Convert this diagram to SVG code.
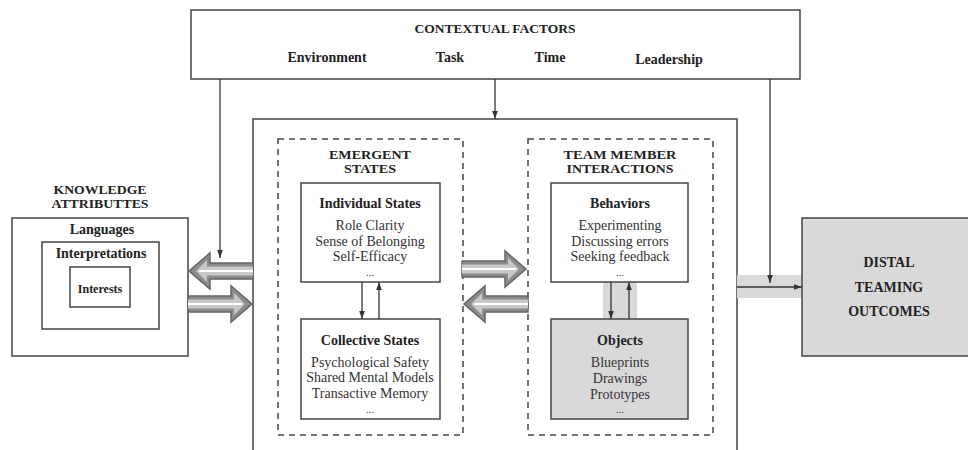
<svg xmlns="http://www.w3.org/2000/svg" width="968" height="450" viewBox="0 0 968 450">
<style>
  text { font-family: "Liberation Serif", "Times New Roman", serif; fill: #222; text-anchor: middle; }
  .h { font-weight: bold; font-size: 14px; }
  .hs { font-weight: bold; font-size: 13.5px; }
  .h2 { font-weight: bold; font-size: 12px; }
  .it { font-size: 14px; fill: #333; }
  .box { fill: #fff; stroke: #444; stroke-width: 1.5; }
  .gbox { fill: #d9d9d9; stroke: #444; stroke-width: 1.5; }
  .dash { fill: none; stroke: #444; stroke-width: 1.5; stroke-dasharray: 6 5; }
  .ln { fill: none; stroke: #333; stroke-width: 1.3; }
  .band { fill: #d9d9d9; stroke: none; }
</style>
<defs>
  <marker id="ah" viewBox="0 0 10 10" refX="10" refY="5" markerWidth="8" markerHeight="8" markerUnits="userSpaceOnUse" orient="auto">
    <path d="M0,1.5 L10,5 L0,8.5 z" fill="#333"/>
  </marker>
  <g id="harrow">
    <polygon points="0,-8 43,-8 43,-18 64,0 43,18 43,8 0,8" fill="#8c8c8c" stroke="#666" stroke-width="1.5" stroke-linejoin="miter"/>
    <polygon points="0,-4.5 46,-4.5 46,-11 57,0 46,11 46,4.5 0,4.5" fill="#c8c8c8"/>
    <line x1="0" y1="0" x2="54" y2="0" stroke="#fff" stroke-width="2"/>
  </g>
</defs>
<rect width="968" height="450" fill="#fff"/>

<g id="contextual-factors">
  <rect class="box" x="191" y="10" width="609" height="69"/>
  <text class="hs" x="495" y="33">CONTEXTUAL FACTORS</text>
  <text class="h" x="327" y="62">Environment</text>
  <text class="h" x="450" y="62">Task</text>
  <text class="h" x="550" y="62">Time</text>
  <text class="h" x="669" y="64">Leadership</text>
</g>

<g id="process-frame">
  <rect class="box" x="253" y="119" width="484" height="345"/>
</g>

<g id="knowledge-attributes">
  <text class="h2" x="100" y="194" textLength="93" lengthAdjust="spacingAndGlyphs">KNOWLEDGE</text>
  <text class="h2" x="100" y="208" textLength="97" lengthAdjust="spacingAndGlyphs">ATTRIBUTTES</text>
  <rect class="box" x="12" y="218" width="176" height="138"/>
  <text class="h" x="102" y="234">Languages</text>
  <rect class="box" x="42" y="242" width="117" height="87"/>
  <text class="h" x="101" y="258">Interpretations</text>
  <rect class="box" x="70" y="267" width="60" height="40"/>
  <text class="h" x="100" y="293" style="font-size:12px">Interests</text>
</g>

<g id="emergent-states">
  <rect class="dash" x="278" y="139" width="185" height="296"/>
  <text class="h2" x="370" y="159" textLength="82" lengthAdjust="spacingAndGlyphs">EMERGENT</text>
  <text class="h2" x="370" y="173" textLength="52" lengthAdjust="spacingAndGlyphs">STATES</text>
</g>

<g id="individual-states">
  <rect class="box" x="301" y="183" width="139" height="99"/>
  <text class="h" x="370" y="208">Individual States</text>
  <text class="it" x="370" y="230">Role Clarity</text>
  <text class="it" x="370" y="246">Sense of Belonging</text>
  <text class="it" x="370" y="261">Self-Efficacy</text>
  <text class="it" x="370" y="276" style="font-size:11px">...</text>
</g>

<g id="collective-states">
  <rect class="box" x="301" y="319" width="139" height="100"/>
  <text class="h" x="370" y="345">Collective States</text>
  <text class="it" x="370" y="367">Psychological Safety</text>
  <text class="it" x="370" y="382">Shared Mental Models</text>
  <text class="it" x="370" y="398">Transactive Memory</text>
  <text class="it" x="370" y="413" style="font-size:11px">...</text>
</g>

<g id="team-member-interactions">
  <rect class="dash" x="528" y="139" width="185" height="296"/>
  <text class="h2" x="620" y="159" textLength="113" lengthAdjust="spacingAndGlyphs">TEAM  MEMBER</text>
  <text class="h2" x="620" y="173" textLength="107" lengthAdjust="spacingAndGlyphs">INTERACTIONS</text>
</g>

<g id="connectors">
  <rect class="band" x="603" y="282" width="34" height="37"/>
  <rect class="band" x="737" y="275" width="65" height="23"/>
  <line class="ln" x1="220" y1="79" x2="220" y2="258" marker-end="url(#ah)"/>
  <line class="ln" x1="495" y1="79" x2="495" y2="119" marker-end="url(#ah)"/>
  <line class="ln" x1="770" y1="79" x2="770" y2="283" marker-end="url(#ah)"/>
  <line class="ln" x1="737" y1="287" x2="802" y2="287" marker-end="url(#ah)"/>
  <line class="ln" x1="362" y1="282" x2="362" y2="319" marker-end="url(#ah)"/>
  <line class="ln" x1="379" y1="319" x2="379" y2="282" marker-end="url(#ah)"/>
  <line class="ln" x1="611" y1="282" x2="611" y2="319" marker-end="url(#ah)"/>
  <line class="ln" x1="629" y1="319" x2="629" y2="282" marker-end="url(#ah)"/>
  <use href="#harrow" transform="translate(253,271) scale(-1,1)"/>
  <use href="#harrow" transform="translate(188,304)"/>
  <use href="#harrow" transform="translate(462,269)"/>
  <use href="#harrow" transform="translate(528,304) scale(-1,1)"/>
</g>

<g id="behaviors">
  <rect class="box" x="551" y="183" width="137" height="99"/>
  <text class="h" x="620" y="208">Behaviors</text>
  <text class="it" x="620" y="230">Experimenting</text>
  <text class="it" x="620" y="246">Discussing errors</text>
  <text class="it" x="620" y="261">Seeking feedback</text>
  <text class="it" x="620" y="276" style="font-size:11px">...</text>
</g>

<g id="objects">
  <rect class="gbox" x="551" y="319" width="137" height="100"/>
  <text class="h" x="620" y="345">Objects</text>
  <text class="it" x="620" y="367">Blueprints</text>
  <text class="it" x="620" y="383">Drawings</text>
  <text class="it" x="620" y="399">Prototypes</text>
  <text class="it" x="620" y="413" style="font-size:11px">...</text>
</g>

<g id="distal-outcomes">
  <rect class="gbox" x="802" y="218" width="175" height="138"/>
  <text class="h" x="889" y="267">DISTAL</text>
  <text class="h" x="889" y="292">TEAMING</text>
  <text class="h" x="889" y="316">OUTCOMES</text>
</g>
</svg>
